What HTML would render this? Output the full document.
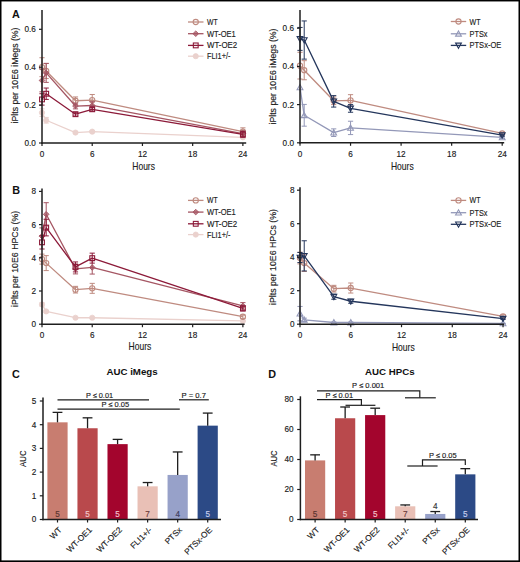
<!DOCTYPE html>
<html><head><meta charset="utf-8"><title>Figure</title>
<style>html,body{margin:0;padding:0;background:#fff;}svg{display:block;}text{font-family:"Liberation Sans", sans-serif;}</style>
</head><body>
<svg width="520" height="562" viewBox="0 0 520 562" font-family='"Liberation Sans", sans-serif'>
<rect x="0" y="0" width="520" height="562" fill="white"/>
<text x="12.00" y="17.60" font-size="10.8" text-anchor="start" fill="#111" font-weight="bold">A</text>
<text x="12.30" y="194.30" font-size="10.8" text-anchor="start" fill="#111" font-weight="bold">B</text>
<text x="12.00" y="377.60" font-size="10.8" text-anchor="start" fill="#111" font-weight="bold">C</text>
<text x="268.20" y="377.60" font-size="10.8" text-anchor="start" fill="#111" font-weight="bold">D</text>
<line x1="42.00" y1="108.89" x2="42.00" y2="116.47" stroke="#ead1cd" stroke-width="1.0"/>
<line x1="39.40" y1="108.89" x2="44.60" y2="108.89" stroke="#ead1cd" stroke-width="1.0"/>
<line x1="39.40" y1="116.47" x2="44.60" y2="116.47" stroke="#ead1cd" stroke-width="1.0"/>
<line x1="46.19" y1="117.42" x2="46.19" y2="123.10" stroke="#ead1cd" stroke-width="1.0"/>
<line x1="43.59" y1="117.42" x2="48.79" y2="117.42" stroke="#ead1cd" stroke-width="1.0"/>
<line x1="43.59" y1="123.10" x2="48.79" y2="123.10" stroke="#ead1cd" stroke-width="1.0"/>
<line x1="75.48" y1="131.63" x2="75.48" y2="133.52" stroke="#ead1cd" stroke-width="1.0"/>
<line x1="72.88" y1="131.63" x2="78.08" y2="131.63" stroke="#ead1cd" stroke-width="1.0"/>
<line x1="72.88" y1="133.52" x2="78.08" y2="133.52" stroke="#ead1cd" stroke-width="1.0"/>
<line x1="92.22" y1="130.68" x2="92.22" y2="132.58" stroke="#ead1cd" stroke-width="1.0"/>
<line x1="89.62" y1="130.68" x2="94.82" y2="130.68" stroke="#ead1cd" stroke-width="1.0"/>
<line x1="89.62" y1="132.58" x2="94.82" y2="132.58" stroke="#ead1cd" stroke-width="1.0"/>
<line x1="242.88" y1="136.75" x2="242.88" y2="137.88" stroke="#ead1cd" stroke-width="1.0"/>
<line x1="240.28" y1="136.75" x2="245.48" y2="136.75" stroke="#ead1cd" stroke-width="1.0"/>
<line x1="240.28" y1="137.88" x2="245.48" y2="137.88" stroke="#ead1cd" stroke-width="1.0"/>
<polyline points="42.00,112.68 46.19,120.26 75.48,132.58 92.22,131.63 242.88,137.31" fill="none" stroke="#ead1cd" stroke-width="1.3" stroke-linejoin="round"/>
<circle cx="42.00" cy="112.68" r="2.6" fill="#ead1cd" stroke="#ead1cd" stroke-width="0.8"/>
<circle cx="46.19" cy="120.26" r="2.6" fill="#ead1cd" stroke="#ead1cd" stroke-width="0.8"/>
<circle cx="75.48" cy="132.58" r="2.6" fill="#ead1cd" stroke="#ead1cd" stroke-width="0.8"/>
<circle cx="92.22" cy="131.63" r="2.6" fill="#ead1cd" stroke="#ead1cd" stroke-width="0.8"/>
<circle cx="242.88" cy="137.31" r="2.6" fill="#ead1cd" stroke="#ead1cd" stroke-width="0.8"/>
<line x1="42.00" y1="57.73" x2="42.00" y2="76.67" stroke="#bf8b80" stroke-width="1.0"/>
<line x1="39.40" y1="57.73" x2="44.60" y2="57.73" stroke="#bf8b80" stroke-width="1.0"/>
<line x1="39.40" y1="76.67" x2="44.60" y2="76.67" stroke="#bf8b80" stroke-width="1.0"/>
<line x1="46.19" y1="63.41" x2="46.19" y2="78.57" stroke="#bf8b80" stroke-width="1.0"/>
<line x1="43.59" y1="63.41" x2="48.79" y2="63.41" stroke="#bf8b80" stroke-width="1.0"/>
<line x1="43.59" y1="78.57" x2="48.79" y2="78.57" stroke="#bf8b80" stroke-width="1.0"/>
<line x1="75.48" y1="96.95" x2="75.48" y2="104.53" stroke="#bf8b80" stroke-width="1.0"/>
<line x1="72.88" y1="96.95" x2="78.08" y2="96.95" stroke="#bf8b80" stroke-width="1.0"/>
<line x1="72.88" y1="104.53" x2="78.08" y2="104.53" stroke="#bf8b80" stroke-width="1.0"/>
<line x1="92.22" y1="94.49" x2="92.22" y2="105.86" stroke="#bf8b80" stroke-width="1.0"/>
<line x1="89.62" y1="94.49" x2="94.82" y2="94.49" stroke="#bf8b80" stroke-width="1.0"/>
<line x1="89.62" y1="105.86" x2="94.82" y2="105.86" stroke="#bf8b80" stroke-width="1.0"/>
<line x1="242.88" y1="127.84" x2="242.88" y2="135.42" stroke="#bf8b80" stroke-width="1.0"/>
<line x1="240.28" y1="127.84" x2="245.48" y2="127.84" stroke="#bf8b80" stroke-width="1.0"/>
<line x1="240.28" y1="135.42" x2="245.48" y2="135.42" stroke="#bf8b80" stroke-width="1.0"/>
<polyline points="42.00,67.20 46.19,70.99 75.48,100.74 92.22,100.17 242.88,131.63" fill="none" stroke="#bf8b80" stroke-width="1.3" stroke-linejoin="round"/>
<circle cx="42.00" cy="67.20" r="2.6" fill="none" stroke="#bf8b80" stroke-width="1.1"/>
<circle cx="46.19" cy="70.99" r="2.6" fill="none" stroke="#bf8b80" stroke-width="1.1"/>
<circle cx="75.48" cy="100.74" r="2.6" fill="none" stroke="#bf8b80" stroke-width="1.1"/>
<circle cx="92.22" cy="100.17" r="2.6" fill="none" stroke="#bf8b80" stroke-width="1.1"/>
<circle cx="242.88" cy="131.63" r="2.6" fill="none" stroke="#bf8b80" stroke-width="1.1"/>
<line x1="42.00" y1="69.09" x2="42.00" y2="91.84" stroke="#a55663" stroke-width="1.0"/>
<line x1="39.40" y1="69.09" x2="44.60" y2="69.09" stroke="#a55663" stroke-width="1.0"/>
<line x1="39.40" y1="91.84" x2="44.60" y2="91.84" stroke="#a55663" stroke-width="1.0"/>
<line x1="46.19" y1="63.41" x2="46.19" y2="82.36" stroke="#a55663" stroke-width="1.0"/>
<line x1="43.59" y1="63.41" x2="48.79" y2="63.41" stroke="#a55663" stroke-width="1.0"/>
<line x1="43.59" y1="82.36" x2="48.79" y2="82.36" stroke="#a55663" stroke-width="1.0"/>
<line x1="75.48" y1="103.20" x2="75.48" y2="108.89" stroke="#a55663" stroke-width="1.0"/>
<line x1="72.88" y1="103.20" x2="78.08" y2="103.20" stroke="#a55663" stroke-width="1.0"/>
<line x1="72.88" y1="108.89" x2="78.08" y2="108.89" stroke="#a55663" stroke-width="1.0"/>
<line x1="92.22" y1="101.69" x2="92.22" y2="109.27" stroke="#a55663" stroke-width="1.0"/>
<line x1="89.62" y1="101.69" x2="94.82" y2="101.69" stroke="#a55663" stroke-width="1.0"/>
<line x1="89.62" y1="109.27" x2="94.82" y2="109.27" stroke="#a55663" stroke-width="1.0"/>
<line x1="242.88" y1="130.68" x2="242.88" y2="136.37" stroke="#a55663" stroke-width="1.0"/>
<line x1="240.28" y1="130.68" x2="245.48" y2="130.68" stroke="#a55663" stroke-width="1.0"/>
<line x1="240.28" y1="136.37" x2="245.48" y2="136.37" stroke="#a55663" stroke-width="1.0"/>
<polyline points="42.00,80.47 46.19,72.89 75.48,106.05 92.22,105.48 242.88,133.53" fill="none" stroke="#a55663" stroke-width="1.3" stroke-linejoin="round"/>
<polygon points="42.00,77.67 44.80,80.47 42.00,83.27 39.20,80.47" fill="#a55663" fill-opacity="0.75" stroke="#a55663" stroke-width="0.9"/>
<polygon points="46.19,70.09 48.98,72.89 46.19,75.69 43.39,72.89" fill="#a55663" fill-opacity="0.75" stroke="#a55663" stroke-width="0.9"/>
<polygon points="75.48,103.25 78.28,106.05 75.48,108.85 72.68,106.05" fill="#a55663" fill-opacity="0.75" stroke="#a55663" stroke-width="0.9"/>
<polygon points="92.22,102.68 95.02,105.48 92.22,108.28 89.42,105.48" fill="#a55663" fill-opacity="0.75" stroke="#a55663" stroke-width="0.9"/>
<polygon points="242.88,130.72 245.68,133.53 242.88,136.33 240.08,133.53" fill="#a55663" fill-opacity="0.75" stroke="#a55663" stroke-width="0.9"/>
<line x1="42.00" y1="93.73" x2="42.00" y2="105.10" stroke="#8c1a39" stroke-width="1.0"/>
<line x1="39.40" y1="93.73" x2="44.60" y2="93.73" stroke="#8c1a39" stroke-width="1.0"/>
<line x1="39.40" y1="105.10" x2="44.60" y2="105.10" stroke="#8c1a39" stroke-width="1.0"/>
<line x1="46.19" y1="88.04" x2="46.19" y2="99.41" stroke="#8c1a39" stroke-width="1.0"/>
<line x1="43.59" y1="88.04" x2="48.79" y2="88.04" stroke="#8c1a39" stroke-width="1.0"/>
<line x1="43.59" y1="99.41" x2="48.79" y2="99.41" stroke="#8c1a39" stroke-width="1.0"/>
<line x1="75.48" y1="112.30" x2="75.48" y2="116.09" stroke="#8c1a39" stroke-width="1.0"/>
<line x1="72.88" y1="112.30" x2="78.08" y2="112.30" stroke="#8c1a39" stroke-width="1.0"/>
<line x1="72.88" y1="116.09" x2="78.08" y2="116.09" stroke="#8c1a39" stroke-width="1.0"/>
<line x1="92.22" y1="107.37" x2="92.22" y2="111.16" stroke="#8c1a39" stroke-width="1.0"/>
<line x1="89.62" y1="107.37" x2="94.82" y2="107.37" stroke="#8c1a39" stroke-width="1.0"/>
<line x1="89.62" y1="111.16" x2="94.82" y2="111.16" stroke="#8c1a39" stroke-width="1.0"/>
<line x1="242.88" y1="131.63" x2="242.88" y2="137.31" stroke="#8c1a39" stroke-width="1.0"/>
<line x1="240.28" y1="131.63" x2="245.48" y2="131.63" stroke="#8c1a39" stroke-width="1.0"/>
<line x1="240.28" y1="137.31" x2="245.48" y2="137.31" stroke="#8c1a39" stroke-width="1.0"/>
<polyline points="42.00,99.41 46.19,93.73 75.48,114.20 92.22,109.27 242.88,134.47" fill="none" stroke="#8c1a39" stroke-width="1.3" stroke-linejoin="round"/>
<rect x="39.60" y="97.01" width="4.80" height="4.80" fill="none" stroke="#8c1a39" stroke-width="1.1"/>
<rect x="43.79" y="91.33" width="4.80" height="4.80" fill="none" stroke="#8c1a39" stroke-width="1.1"/>
<rect x="73.08" y="111.80" width="4.80" height="4.80" fill="none" stroke="#8c1a39" stroke-width="1.1"/>
<rect x="89.82" y="106.87" width="4.80" height="4.80" fill="none" stroke="#8c1a39" stroke-width="1.1"/>
<rect x="240.48" y="132.07" width="4.80" height="4.80" fill="none" stroke="#8c1a39" stroke-width="1.1"/>
<line x1="42.00" y1="10.00" x2="42.00" y2="143.70" stroke="#1e1e1e" stroke-width="1.5"/>
<line x1="41.30" y1="143.00" x2="246.20" y2="143.00" stroke="#1e1e1e" stroke-width="1.5"/>
<line x1="39.00" y1="143.00" x2="42.00" y2="143.00" stroke="#1e1e1e" stroke-width="1.2"/>
<text x="35.80" y="145.90" font-size="8.2" text-anchor="end" fill="#202020" stroke="#202020" stroke-width="0.14">0.0</text>
<line x1="39.00" y1="105.10" x2="42.00" y2="105.10" stroke="#1e1e1e" stroke-width="1.2"/>
<text x="35.80" y="108.00" font-size="8.2" text-anchor="end" fill="#202020" stroke="#202020" stroke-width="0.14">0.2</text>
<line x1="39.00" y1="67.20" x2="42.00" y2="67.20" stroke="#1e1e1e" stroke-width="1.2"/>
<text x="35.80" y="70.10" font-size="8.2" text-anchor="end" fill="#202020" stroke="#202020" stroke-width="0.14">0.4</text>
<line x1="39.00" y1="29.30" x2="42.00" y2="29.30" stroke="#1e1e1e" stroke-width="1.2"/>
<text x="35.80" y="32.20" font-size="8.2" text-anchor="end" fill="#202020" stroke="#202020" stroke-width="0.14">0.6</text>
<line x1="42.00" y1="143.00" x2="42.00" y2="146.00" stroke="#1e1e1e" stroke-width="1.2"/>
<text x="42.00" y="157.20" font-size="8.2" text-anchor="middle" fill="#202020" stroke="#202020" stroke-width="0.14">0</text>
<line x1="92.22" y1="143.00" x2="92.22" y2="146.00" stroke="#1e1e1e" stroke-width="1.2"/>
<text x="92.22" y="157.20" font-size="8.2" text-anchor="middle" fill="#202020" stroke="#202020" stroke-width="0.14">6</text>
<line x1="142.44" y1="143.00" x2="142.44" y2="146.00" stroke="#1e1e1e" stroke-width="1.2"/>
<text x="142.44" y="157.20" font-size="8.2" text-anchor="middle" fill="#202020" stroke="#202020" stroke-width="0.14">12</text>
<line x1="192.66" y1="143.00" x2="192.66" y2="146.00" stroke="#1e1e1e" stroke-width="1.2"/>
<text x="192.66" y="157.20" font-size="8.2" text-anchor="middle" fill="#202020" stroke="#202020" stroke-width="0.14">18</text>
<line x1="242.88" y1="143.00" x2="242.88" y2="146.00" stroke="#1e1e1e" stroke-width="1.2"/>
<text x="242.88" y="157.20" font-size="8.2" text-anchor="middle" fill="#202020" stroke="#202020" stroke-width="0.14">24</text>
<text x="143.60" y="169.80" font-size="10.6" text-anchor="middle" fill="#202020" textLength="22.7" lengthAdjust="spacingAndGlyphs" stroke="#202020" stroke-width="0.14">Hours</text>
<text x="17.80" y="75.50" font-size="8.4" text-anchor="middle" fill="#202020" textLength="96" lengthAdjust="spacingAndGlyphs" transform="rotate(-90 17.80 75.50)" stroke="#202020" stroke-width="0.14">iPlts per 10E6 iMegs (%)</text>
<line x1="188.00" y1="22.00" x2="203.50" y2="22.00" stroke="#bf8b80" stroke-width="1.3"/>
<circle cx="195.75" cy="22.00" r="2.6" fill="none" stroke="#bf8b80" stroke-width="1.1"/>
<text x="207.00" y="25.00" font-size="8.3" text-anchor="start" fill="#202020" textLength="10.6" lengthAdjust="spacingAndGlyphs" stroke="#202020" stroke-width="0.14">WT</text>
<line x1="188.00" y1="33.70" x2="203.50" y2="33.70" stroke="#a55663" stroke-width="1.3"/>
<polygon points="195.75,30.90 198.55,33.70 195.75,36.50 192.95,33.70" fill="#a55663" fill-opacity="0.75" stroke="#a55663" stroke-width="0.9"/>
<text x="207.00" y="36.70" font-size="8.3" text-anchor="start" fill="#202020" textLength="28.8" lengthAdjust="spacingAndGlyphs" stroke="#202020" stroke-width="0.14">WT-OE1</text>
<line x1="188.00" y1="45.40" x2="203.50" y2="45.40" stroke="#8c1a39" stroke-width="1.3"/>
<rect x="193.35" y="43.00" width="4.80" height="4.80" fill="none" stroke="#8c1a39" stroke-width="1.1"/>
<text x="207.00" y="48.40" font-size="8.3" text-anchor="start" fill="#202020" textLength="30.2" lengthAdjust="spacingAndGlyphs" stroke="#202020" stroke-width="0.14">WT-OE2</text>
<line x1="188.00" y1="56.20" x2="203.50" y2="56.20" stroke="#ead1cd" stroke-width="1.3"/>
<circle cx="195.75" cy="56.20" r="2.6" fill="#ead1cd" stroke="#ead1cd" stroke-width="0.8"/>
<text x="207.00" y="59.20" font-size="8.3" text-anchor="start" fill="#202020" textLength="23.4" lengthAdjust="spacingAndGlyphs" stroke="#202020" stroke-width="0.14">FLI1+/-</text>
<line x1="304.21" y1="104.41" x2="304.21" y2="126.18" stroke="#9398b8" stroke-width="1.0"/>
<line x1="301.61" y1="104.41" x2="306.81" y2="104.41" stroke="#9398b8" stroke-width="1.0"/>
<line x1="301.61" y1="126.18" x2="306.81" y2="126.18" stroke="#9398b8" stroke-width="1.0"/>
<line x1="333.70" y1="128.86" x2="333.70" y2="136.50" stroke="#9398b8" stroke-width="1.0"/>
<line x1="331.10" y1="128.86" x2="336.30" y2="128.86" stroke="#9398b8" stroke-width="1.0"/>
<line x1="331.10" y1="136.50" x2="336.30" y2="136.50" stroke="#9398b8" stroke-width="1.0"/>
<line x1="350.55" y1="121.22" x2="350.55" y2="134.59" stroke="#9398b8" stroke-width="1.0"/>
<line x1="347.95" y1="121.22" x2="353.15" y2="121.22" stroke="#9398b8" stroke-width="1.0"/>
<line x1="347.95" y1="134.59" x2="353.15" y2="134.59" stroke="#9398b8" stroke-width="1.0"/>
<line x1="502.20" y1="136.50" x2="502.20" y2="138.41" stroke="#9398b8" stroke-width="1.0"/>
<line x1="499.60" y1="136.50" x2="504.80" y2="136.50" stroke="#9398b8" stroke-width="1.0"/>
<line x1="499.60" y1="138.41" x2="504.80" y2="138.41" stroke="#9398b8" stroke-width="1.0"/>
<polyline points="300.00,87.41 304.21,115.30 333.70,132.68 350.55,127.90 502.20,137.45" fill="none" stroke="#9398b8" stroke-width="1.3" stroke-linejoin="round"/>
<polygon points="300.00,84.51 302.90,89.73 297.10,89.73" fill="none" stroke="#9398b8" stroke-width="1.1"/>
<polygon points="304.21,112.40 307.11,117.62 301.31,117.62" fill="none" stroke="#9398b8" stroke-width="1.1"/>
<polygon points="333.70,129.78 336.60,135.00 330.80,135.00" fill="none" stroke="#9398b8" stroke-width="1.1"/>
<polygon points="350.55,125.00 353.45,130.22 347.65,130.22" fill="none" stroke="#9398b8" stroke-width="1.1"/>
<polygon points="502.20,134.55 505.10,139.77 499.30,139.77" fill="none" stroke="#9398b8" stroke-width="1.1"/>
<line x1="300.00" y1="52.27" x2="300.00" y2="79.01" stroke="#bf8b80" stroke-width="1.0"/>
<line x1="297.40" y1="52.27" x2="302.60" y2="52.27" stroke="#bf8b80" stroke-width="1.0"/>
<line x1="297.40" y1="79.01" x2="302.60" y2="79.01" stroke="#bf8b80" stroke-width="1.0"/>
<line x1="304.21" y1="60.67" x2="304.21" y2="79.77" stroke="#bf8b80" stroke-width="1.0"/>
<line x1="301.61" y1="60.67" x2="306.81" y2="60.67" stroke="#bf8b80" stroke-width="1.0"/>
<line x1="301.61" y1="79.77" x2="306.81" y2="79.77" stroke="#bf8b80" stroke-width="1.0"/>
<line x1="333.70" y1="96.96" x2="333.70" y2="104.60" stroke="#bf8b80" stroke-width="1.0"/>
<line x1="331.10" y1="96.96" x2="336.30" y2="96.96" stroke="#bf8b80" stroke-width="1.0"/>
<line x1="331.10" y1="104.60" x2="336.30" y2="104.60" stroke="#bf8b80" stroke-width="1.0"/>
<line x1="350.55" y1="94.67" x2="350.55" y2="106.13" stroke="#bf8b80" stroke-width="1.0"/>
<line x1="347.95" y1="94.67" x2="353.15" y2="94.67" stroke="#bf8b80" stroke-width="1.0"/>
<line x1="347.95" y1="106.13" x2="353.15" y2="106.13" stroke="#bf8b80" stroke-width="1.0"/>
<line x1="502.20" y1="132.49" x2="502.20" y2="134.40" stroke="#bf8b80" stroke-width="1.0"/>
<line x1="499.60" y1="132.49" x2="504.80" y2="132.49" stroke="#bf8b80" stroke-width="1.0"/>
<line x1="499.60" y1="134.40" x2="504.80" y2="134.40" stroke="#bf8b80" stroke-width="1.0"/>
<polyline points="300.00,65.64 304.21,70.22 333.70,100.78 350.55,100.40 502.20,133.44" fill="none" stroke="#bf8b80" stroke-width="1.3" stroke-linejoin="round"/>
<circle cx="300.00" cy="65.64" r="2.6" fill="none" stroke="#bf8b80" stroke-width="1.1"/>
<circle cx="304.21" cy="70.22" r="2.6" fill="none" stroke="#bf8b80" stroke-width="1.1"/>
<circle cx="333.70" cy="100.78" r="2.6" fill="none" stroke="#bf8b80" stroke-width="1.1"/>
<circle cx="350.55" cy="100.40" r="2.6" fill="none" stroke="#bf8b80" stroke-width="1.1"/>
<circle cx="502.20" cy="133.44" r="2.6" fill="none" stroke="#bf8b80" stroke-width="1.1"/>
<line x1="300.00" y1="27.44" x2="300.00" y2="50.36" stroke="#24365c" stroke-width="1.0"/>
<line x1="297.40" y1="27.44" x2="302.60" y2="27.44" stroke="#24365c" stroke-width="1.0"/>
<line x1="297.40" y1="50.36" x2="302.60" y2="50.36" stroke="#24365c" stroke-width="1.0"/>
<line x1="304.21" y1="20.94" x2="304.21" y2="59.14" stroke="#24365c" stroke-width="1.0"/>
<line x1="301.61" y1="20.94" x2="306.81" y2="20.94" stroke="#24365c" stroke-width="1.0"/>
<line x1="301.61" y1="59.14" x2="306.81" y2="59.14" stroke="#24365c" stroke-width="1.0"/>
<line x1="333.70" y1="95.62" x2="333.70" y2="107.08" stroke="#24365c" stroke-width="1.0"/>
<line x1="331.10" y1="95.62" x2="336.30" y2="95.62" stroke="#24365c" stroke-width="1.0"/>
<line x1="331.10" y1="107.08" x2="336.30" y2="107.08" stroke="#24365c" stroke-width="1.0"/>
<line x1="350.55" y1="104.60" x2="350.55" y2="112.24" stroke="#24365c" stroke-width="1.0"/>
<line x1="347.95" y1="104.60" x2="353.15" y2="104.60" stroke="#24365c" stroke-width="1.0"/>
<line x1="347.95" y1="112.24" x2="353.15" y2="112.24" stroke="#24365c" stroke-width="1.0"/>
<line x1="502.20" y1="134.21" x2="502.20" y2="136.12" stroke="#24365c" stroke-width="1.0"/>
<line x1="499.60" y1="134.21" x2="504.80" y2="134.21" stroke="#24365c" stroke-width="1.0"/>
<line x1="499.60" y1="136.12" x2="504.80" y2="136.12" stroke="#24365c" stroke-width="1.0"/>
<polyline points="300.00,38.90 304.21,40.04 333.70,101.35 350.55,108.42 502.20,135.16" fill="none" stroke="#24365c" stroke-width="1.3" stroke-linejoin="round"/>
<polygon points="300.00,41.80 302.90,36.58 297.10,36.58" fill="none" stroke="#24365c" stroke-width="1.1"/>
<polygon points="304.21,42.94 307.11,37.72 301.31,37.72" fill="none" stroke="#24365c" stroke-width="1.1"/>
<polygon points="333.70,104.25 336.60,99.03 330.80,99.03" fill="none" stroke="#24365c" stroke-width="1.1"/>
<polygon points="350.55,111.32 353.45,106.10 347.65,106.10" fill="none" stroke="#24365c" stroke-width="1.1"/>
<polygon points="502.20,138.06 505.10,132.84 499.30,132.84" fill="none" stroke="#24365c" stroke-width="1.1"/>
<line x1="300.00" y1="10.00" x2="300.00" y2="143.50" stroke="#1e1e1e" stroke-width="1.5"/>
<line x1="299.30" y1="142.80" x2="504.20" y2="142.80" stroke="#1e1e1e" stroke-width="1.5"/>
<line x1="297.00" y1="142.80" x2="300.00" y2="142.80" stroke="#1e1e1e" stroke-width="1.2"/>
<text x="294.00" y="145.70" font-size="8.2" text-anchor="end" fill="#202020" stroke="#202020" stroke-width="0.14">0.0</text>
<line x1="297.00" y1="104.60" x2="300.00" y2="104.60" stroke="#1e1e1e" stroke-width="1.2"/>
<text x="294.00" y="107.50" font-size="8.2" text-anchor="end" fill="#202020" stroke="#202020" stroke-width="0.14">0.2</text>
<line x1="297.00" y1="66.40" x2="300.00" y2="66.40" stroke="#1e1e1e" stroke-width="1.2"/>
<text x="294.00" y="69.30" font-size="8.2" text-anchor="end" fill="#202020" stroke="#202020" stroke-width="0.14">0.4</text>
<line x1="297.00" y1="28.20" x2="300.00" y2="28.20" stroke="#1e1e1e" stroke-width="1.2"/>
<text x="294.00" y="31.10" font-size="8.2" text-anchor="end" fill="#202020" stroke="#202020" stroke-width="0.14">0.6</text>
<line x1="300.00" y1="142.80" x2="300.00" y2="145.80" stroke="#1e1e1e" stroke-width="1.2"/>
<text x="300.00" y="157.20" font-size="8.2" text-anchor="middle" fill="#202020" stroke="#202020" stroke-width="0.14">0</text>
<line x1="350.55" y1="142.80" x2="350.55" y2="145.80" stroke="#1e1e1e" stroke-width="1.2"/>
<text x="350.55" y="157.20" font-size="8.2" text-anchor="middle" fill="#202020" stroke="#202020" stroke-width="0.14">6</text>
<line x1="401.10" y1="142.80" x2="401.10" y2="145.80" stroke="#1e1e1e" stroke-width="1.2"/>
<text x="401.10" y="157.20" font-size="8.2" text-anchor="middle" fill="#202020" stroke="#202020" stroke-width="0.14">12</text>
<line x1="451.65" y1="142.80" x2="451.65" y2="145.80" stroke="#1e1e1e" stroke-width="1.2"/>
<text x="451.65" y="157.20" font-size="8.2" text-anchor="middle" fill="#202020" stroke="#202020" stroke-width="0.14">18</text>
<line x1="502.20" y1="142.80" x2="502.20" y2="145.80" stroke="#1e1e1e" stroke-width="1.2"/>
<text x="502.20" y="157.20" font-size="8.2" text-anchor="middle" fill="#202020" stroke="#202020" stroke-width="0.14">24</text>
<text x="402.30" y="169.80" font-size="10.6" text-anchor="middle" fill="#202020" textLength="22.7" lengthAdjust="spacingAndGlyphs" stroke="#202020" stroke-width="0.14">Hours</text>
<text x="276.40" y="76.50" font-size="8.4" text-anchor="middle" fill="#202020" textLength="96" lengthAdjust="spacingAndGlyphs" transform="rotate(-90 276.40 76.50)" stroke="#202020" stroke-width="0.14">iPlts per 10E6 iMegs (%)</text>
<line x1="450.80" y1="21.50" x2="466.20" y2="21.50" stroke="#bf8b80" stroke-width="1.3"/>
<circle cx="458.50" cy="21.50" r="2.6" fill="none" stroke="#bf8b80" stroke-width="1.1"/>
<text x="469.50" y="24.50" font-size="8.3" text-anchor="start" fill="#202020" textLength="11.0" lengthAdjust="spacingAndGlyphs" stroke="#202020" stroke-width="0.14">WT</text>
<line x1="450.80" y1="33.80" x2="466.20" y2="33.80" stroke="#9398b8" stroke-width="1.3"/>
<polygon points="458.50,30.90 461.40,36.12 455.60,36.12" fill="none" stroke="#9398b8" stroke-width="1.1"/>
<text x="469.50" y="36.80" font-size="8.3" text-anchor="start" fill="#202020" textLength="18.0" lengthAdjust="spacingAndGlyphs" stroke="#202020" stroke-width="0.14">PTSx</text>
<line x1="450.80" y1="45.40" x2="466.20" y2="45.40" stroke="#24365c" stroke-width="1.3"/>
<polygon points="458.50,48.30 461.40,43.08 455.60,43.08" fill="none" stroke="#24365c" stroke-width="1.1"/>
<text x="469.50" y="48.40" font-size="8.3" text-anchor="start" fill="#202020" textLength="31.8" lengthAdjust="spacingAndGlyphs" stroke="#202020" stroke-width="0.14">PTSx-OE</text>
<line x1="42.00" y1="302.79" x2="42.00" y2="306.11" stroke="#ead1cd" stroke-width="1.0"/>
<line x1="39.40" y1="302.79" x2="44.60" y2="302.79" stroke="#ead1cd" stroke-width="1.0"/>
<line x1="39.40" y1="306.11" x2="44.60" y2="306.11" stroke="#ead1cd" stroke-width="1.0"/>
<line x1="46.19" y1="310.59" x2="46.19" y2="312.25" stroke="#ead1cd" stroke-width="1.0"/>
<line x1="43.59" y1="310.59" x2="48.79" y2="310.59" stroke="#ead1cd" stroke-width="1.0"/>
<line x1="43.59" y1="312.25" x2="48.79" y2="312.25" stroke="#ead1cd" stroke-width="1.0"/>
<line x1="75.48" y1="317.23" x2="75.48" y2="318.22" stroke="#ead1cd" stroke-width="1.0"/>
<line x1="72.88" y1="317.23" x2="78.08" y2="317.23" stroke="#ead1cd" stroke-width="1.0"/>
<line x1="72.88" y1="318.22" x2="78.08" y2="318.22" stroke="#ead1cd" stroke-width="1.0"/>
<line x1="92.22" y1="317.23" x2="92.22" y2="318.22" stroke="#ead1cd" stroke-width="1.0"/>
<line x1="89.62" y1="317.23" x2="94.82" y2="317.23" stroke="#ead1cd" stroke-width="1.0"/>
<line x1="89.62" y1="318.22" x2="94.82" y2="318.22" stroke="#ead1cd" stroke-width="1.0"/>
<line x1="242.88" y1="320.55" x2="242.88" y2="321.21" stroke="#ead1cd" stroke-width="1.0"/>
<line x1="240.28" y1="320.55" x2="245.48" y2="320.55" stroke="#ead1cd" stroke-width="1.0"/>
<line x1="240.28" y1="321.21" x2="245.48" y2="321.21" stroke="#ead1cd" stroke-width="1.0"/>
<polyline points="42.00,304.45 46.19,311.42 75.48,317.73 92.22,317.73 242.88,320.88" fill="none" stroke="#ead1cd" stroke-width="1.3" stroke-linejoin="round"/>
<circle cx="42.00" cy="304.45" r="2.6" fill="#ead1cd" stroke="#ead1cd" stroke-width="0.8"/>
<circle cx="46.19" cy="311.42" r="2.6" fill="#ead1cd" stroke="#ead1cd" stroke-width="0.8"/>
<circle cx="75.48" cy="317.73" r="2.6" fill="#ead1cd" stroke="#ead1cd" stroke-width="0.8"/>
<circle cx="92.22" cy="317.73" r="2.6" fill="#ead1cd" stroke="#ead1cd" stroke-width="0.8"/>
<circle cx="242.88" cy="320.88" r="2.6" fill="#ead1cd" stroke="#ead1cd" stroke-width="0.8"/>
<line x1="42.00" y1="254.15" x2="42.00" y2="264.11" stroke="#bf8b80" stroke-width="1.0"/>
<line x1="39.40" y1="254.15" x2="44.60" y2="254.15" stroke="#bf8b80" stroke-width="1.0"/>
<line x1="39.40" y1="264.11" x2="44.60" y2="264.11" stroke="#bf8b80" stroke-width="1.0"/>
<line x1="46.19" y1="255.64" x2="46.19" y2="270.58" stroke="#bf8b80" stroke-width="1.0"/>
<line x1="43.59" y1="255.64" x2="48.79" y2="255.64" stroke="#bf8b80" stroke-width="1.0"/>
<line x1="43.59" y1="270.58" x2="48.79" y2="270.58" stroke="#bf8b80" stroke-width="1.0"/>
<line x1="75.48" y1="286.35" x2="75.48" y2="292.99" stroke="#bf8b80" stroke-width="1.0"/>
<line x1="72.88" y1="286.35" x2="78.08" y2="286.35" stroke="#bf8b80" stroke-width="1.0"/>
<line x1="72.88" y1="292.99" x2="78.08" y2="292.99" stroke="#bf8b80" stroke-width="1.0"/>
<line x1="92.22" y1="283.36" x2="92.22" y2="293.32" stroke="#bf8b80" stroke-width="1.0"/>
<line x1="89.62" y1="283.36" x2="94.82" y2="283.36" stroke="#bf8b80" stroke-width="1.0"/>
<line x1="89.62" y1="293.32" x2="94.82" y2="293.32" stroke="#bf8b80" stroke-width="1.0"/>
<line x1="242.88" y1="315.07" x2="242.88" y2="318.39" stroke="#bf8b80" stroke-width="1.0"/>
<line x1="240.28" y1="315.07" x2="245.48" y2="315.07" stroke="#bf8b80" stroke-width="1.0"/>
<line x1="240.28" y1="318.39" x2="245.48" y2="318.39" stroke="#bf8b80" stroke-width="1.0"/>
<polyline points="42.00,259.13 46.19,263.11 75.48,289.67 92.22,288.34 242.88,316.73" fill="none" stroke="#bf8b80" stroke-width="1.3" stroke-linejoin="round"/>
<circle cx="42.00" cy="259.13" r="2.6" fill="none" stroke="#bf8b80" stroke-width="1.1"/>
<circle cx="46.19" cy="263.11" r="2.6" fill="none" stroke="#bf8b80" stroke-width="1.1"/>
<circle cx="75.48" cy="289.67" r="2.6" fill="none" stroke="#bf8b80" stroke-width="1.1"/>
<circle cx="92.22" cy="288.34" r="2.6" fill="none" stroke="#bf8b80" stroke-width="1.1"/>
<circle cx="242.88" cy="316.73" r="2.6" fill="none" stroke="#bf8b80" stroke-width="1.1"/>
<line x1="42.00" y1="227.92" x2="42.00" y2="244.52" stroke="#a55663" stroke-width="1.0"/>
<line x1="39.40" y1="227.92" x2="44.60" y2="227.92" stroke="#a55663" stroke-width="1.0"/>
<line x1="39.40" y1="244.52" x2="44.60" y2="244.52" stroke="#a55663" stroke-width="1.0"/>
<line x1="46.19" y1="202.69" x2="46.19" y2="225.93" stroke="#a55663" stroke-width="1.0"/>
<line x1="43.59" y1="202.69" x2="48.79" y2="202.69" stroke="#a55663" stroke-width="1.0"/>
<line x1="43.59" y1="225.93" x2="48.79" y2="225.93" stroke="#a55663" stroke-width="1.0"/>
<line x1="75.48" y1="263.94" x2="75.48" y2="273.90" stroke="#a55663" stroke-width="1.0"/>
<line x1="72.88" y1="263.94" x2="78.08" y2="263.94" stroke="#a55663" stroke-width="1.0"/>
<line x1="72.88" y1="273.90" x2="78.08" y2="273.90" stroke="#a55663" stroke-width="1.0"/>
<line x1="92.22" y1="260.79" x2="92.22" y2="274.07" stroke="#a55663" stroke-width="1.0"/>
<line x1="89.62" y1="260.79" x2="94.82" y2="260.79" stroke="#a55663" stroke-width="1.0"/>
<line x1="89.62" y1="274.07" x2="94.82" y2="274.07" stroke="#a55663" stroke-width="1.0"/>
<line x1="242.88" y1="302.62" x2="242.88" y2="309.26" stroke="#a55663" stroke-width="1.0"/>
<line x1="240.28" y1="302.62" x2="245.48" y2="302.62" stroke="#a55663" stroke-width="1.0"/>
<line x1="240.28" y1="309.26" x2="245.48" y2="309.26" stroke="#a55663" stroke-width="1.0"/>
<polyline points="42.00,236.22 46.19,214.31 75.48,268.92 92.22,267.43 242.88,305.94" fill="none" stroke="#a55663" stroke-width="1.3" stroke-linejoin="round"/>
<polygon points="42.00,233.42 44.80,236.22 42.00,239.02 39.20,236.22" fill="#a55663" fill-opacity="0.75" stroke="#a55663" stroke-width="0.9"/>
<polygon points="46.19,211.51 48.98,214.31 46.19,217.11 43.39,214.31" fill="#a55663" fill-opacity="0.75" stroke="#a55663" stroke-width="0.9"/>
<polygon points="75.48,266.12 78.28,268.92 75.48,271.72 72.68,268.92" fill="#a55663" fill-opacity="0.75" stroke="#a55663" stroke-width="0.9"/>
<polygon points="92.22,264.63 95.02,267.43 92.22,270.23 89.42,267.43" fill="#a55663" fill-opacity="0.75" stroke="#a55663" stroke-width="0.9"/>
<polygon points="242.88,303.14 245.68,305.94 242.88,308.74 240.08,305.94" fill="#a55663" fill-opacity="0.75" stroke="#a55663" stroke-width="0.9"/>
<line x1="42.00" y1="235.72" x2="42.00" y2="249.00" stroke="#8c1a39" stroke-width="1.0"/>
<line x1="39.40" y1="235.72" x2="44.60" y2="235.72" stroke="#8c1a39" stroke-width="1.0"/>
<line x1="39.40" y1="249.00" x2="44.60" y2="249.00" stroke="#8c1a39" stroke-width="1.0"/>
<line x1="46.19" y1="219.29" x2="46.19" y2="235.89" stroke="#8c1a39" stroke-width="1.0"/>
<line x1="43.59" y1="219.29" x2="48.79" y2="219.29" stroke="#8c1a39" stroke-width="1.0"/>
<line x1="43.59" y1="235.89" x2="48.79" y2="235.89" stroke="#8c1a39" stroke-width="1.0"/>
<line x1="75.48" y1="261.95" x2="75.48" y2="271.91" stroke="#8c1a39" stroke-width="1.0"/>
<line x1="72.88" y1="261.95" x2="78.08" y2="261.95" stroke="#8c1a39" stroke-width="1.0"/>
<line x1="72.88" y1="271.91" x2="78.08" y2="271.91" stroke="#8c1a39" stroke-width="1.0"/>
<line x1="92.22" y1="253.15" x2="92.22" y2="263.11" stroke="#8c1a39" stroke-width="1.0"/>
<line x1="89.62" y1="253.15" x2="94.82" y2="253.15" stroke="#8c1a39" stroke-width="1.0"/>
<line x1="89.62" y1="263.11" x2="94.82" y2="263.11" stroke="#8c1a39" stroke-width="1.0"/>
<line x1="242.88" y1="305.94" x2="242.88" y2="310.92" stroke="#8c1a39" stroke-width="1.0"/>
<line x1="240.28" y1="305.94" x2="245.48" y2="305.94" stroke="#8c1a39" stroke-width="1.0"/>
<line x1="240.28" y1="310.92" x2="245.48" y2="310.92" stroke="#8c1a39" stroke-width="1.0"/>
<polyline points="42.00,242.36 46.19,227.59 75.48,266.93 92.22,258.13 242.88,308.43" fill="none" stroke="#8c1a39" stroke-width="1.3" stroke-linejoin="round"/>
<rect x="39.60" y="239.96" width="4.80" height="4.80" fill="none" stroke="#8c1a39" stroke-width="1.1"/>
<rect x="43.79" y="225.19" width="4.80" height="4.80" fill="none" stroke="#8c1a39" stroke-width="1.1"/>
<rect x="73.08" y="264.53" width="4.80" height="4.80" fill="none" stroke="#8c1a39" stroke-width="1.1"/>
<rect x="89.82" y="255.73" width="4.80" height="4.80" fill="none" stroke="#8c1a39" stroke-width="1.1"/>
<rect x="240.48" y="306.03" width="4.80" height="4.80" fill="none" stroke="#8c1a39" stroke-width="1.1"/>
<line x1="42.00" y1="188.40" x2="42.00" y2="324.90" stroke="#1e1e1e" stroke-width="1.5"/>
<line x1="41.30" y1="324.20" x2="244.60" y2="324.20" stroke="#1e1e1e" stroke-width="1.5"/>
<line x1="39.00" y1="324.20" x2="42.00" y2="324.20" stroke="#1e1e1e" stroke-width="1.2"/>
<text x="36.00" y="327.10" font-size="8.2" text-anchor="end" fill="#202020" stroke="#202020" stroke-width="0.14">0</text>
<line x1="39.00" y1="291.00" x2="42.00" y2="291.00" stroke="#1e1e1e" stroke-width="1.2"/>
<text x="36.00" y="293.90" font-size="8.2" text-anchor="end" fill="#202020" stroke="#202020" stroke-width="0.14">2</text>
<line x1="39.00" y1="257.80" x2="42.00" y2="257.80" stroke="#1e1e1e" stroke-width="1.2"/>
<text x="36.00" y="260.70" font-size="8.2" text-anchor="end" fill="#202020" stroke="#202020" stroke-width="0.14">4</text>
<line x1="39.00" y1="224.60" x2="42.00" y2="224.60" stroke="#1e1e1e" stroke-width="1.2"/>
<text x="36.00" y="227.50" font-size="8.2" text-anchor="end" fill="#202020" stroke="#202020" stroke-width="0.14">6</text>
<line x1="39.00" y1="191.40" x2="42.00" y2="191.40" stroke="#1e1e1e" stroke-width="1.2"/>
<text x="36.00" y="194.30" font-size="8.2" text-anchor="end" fill="#202020" stroke="#202020" stroke-width="0.14">8</text>
<line x1="42.00" y1="324.20" x2="42.00" y2="327.20" stroke="#1e1e1e" stroke-width="1.2"/>
<text x="42.00" y="338.00" font-size="8.2" text-anchor="middle" fill="#202020" stroke="#202020" stroke-width="0.14">0</text>
<line x1="92.22" y1="324.20" x2="92.22" y2="327.20" stroke="#1e1e1e" stroke-width="1.2"/>
<text x="92.22" y="338.00" font-size="8.2" text-anchor="middle" fill="#202020" stroke="#202020" stroke-width="0.14">6</text>
<line x1="142.44" y1="324.20" x2="142.44" y2="327.20" stroke="#1e1e1e" stroke-width="1.2"/>
<text x="142.44" y="338.00" font-size="8.2" text-anchor="middle" fill="#202020" stroke="#202020" stroke-width="0.14">12</text>
<line x1="192.66" y1="324.20" x2="192.66" y2="327.20" stroke="#1e1e1e" stroke-width="1.2"/>
<text x="192.66" y="338.00" font-size="8.2" text-anchor="middle" fill="#202020" stroke="#202020" stroke-width="0.14">18</text>
<line x1="242.88" y1="324.20" x2="242.88" y2="327.20" stroke="#1e1e1e" stroke-width="1.2"/>
<text x="242.88" y="338.00" font-size="8.2" text-anchor="middle" fill="#202020" stroke="#202020" stroke-width="0.14">24</text>
<text x="139.90" y="350.20" font-size="10.6" text-anchor="middle" fill="#202020" textLength="22.7" lengthAdjust="spacingAndGlyphs" stroke="#202020" stroke-width="0.14">Hours</text>
<text x="17.80" y="258.90" font-size="8.4" text-anchor="middle" fill="#202020" textLength="96" lengthAdjust="spacingAndGlyphs" transform="rotate(-90 17.80 258.90)" stroke="#202020" stroke-width="0.14">iPlts per 10E6 HPCs (%)</text>
<line x1="188.00" y1="200.40" x2="203.50" y2="200.40" stroke="#bf8b80" stroke-width="1.3"/>
<circle cx="195.75" cy="200.40" r="2.6" fill="none" stroke="#bf8b80" stroke-width="1.1"/>
<text x="207.00" y="203.40" font-size="8.3" text-anchor="start" fill="#202020" textLength="10.6" lengthAdjust="spacingAndGlyphs" stroke="#202020" stroke-width="0.14">WT</text>
<line x1="188.00" y1="212.10" x2="203.50" y2="212.10" stroke="#a55663" stroke-width="1.3"/>
<polygon points="195.75,209.30 198.55,212.10 195.75,214.90 192.95,212.10" fill="#a55663" fill-opacity="0.75" stroke="#a55663" stroke-width="0.9"/>
<text x="207.00" y="215.10" font-size="8.3" text-anchor="start" fill="#202020" textLength="28.8" lengthAdjust="spacingAndGlyphs" stroke="#202020" stroke-width="0.14">WT-OE1</text>
<line x1="188.00" y1="223.80" x2="203.50" y2="223.80" stroke="#8c1a39" stroke-width="1.3"/>
<rect x="193.35" y="221.40" width="4.80" height="4.80" fill="none" stroke="#8c1a39" stroke-width="1.1"/>
<text x="207.00" y="226.80" font-size="8.3" text-anchor="start" fill="#202020" textLength="30.2" lengthAdjust="spacingAndGlyphs" stroke="#202020" stroke-width="0.14">WT-OE2</text>
<line x1="188.00" y1="234.60" x2="203.50" y2="234.60" stroke="#ead1cd" stroke-width="1.3"/>
<circle cx="195.75" cy="234.60" r="2.6" fill="#ead1cd" stroke="#ead1cd" stroke-width="0.8"/>
<text x="207.00" y="237.60" font-size="8.3" text-anchor="start" fill="#202020" textLength="23.4" lengthAdjust="spacingAndGlyphs" stroke="#202020" stroke-width="0.14">FLI1+/-</text>
<line x1="300.00" y1="306.44" x2="300.00" y2="320.85" stroke="#9398b8" stroke-width="1.0"/>
<line x1="297.40" y1="306.44" x2="302.60" y2="306.44" stroke="#9398b8" stroke-width="1.0"/>
<line x1="297.40" y1="320.85" x2="302.60" y2="320.85" stroke="#9398b8" stroke-width="1.0"/>
<line x1="304.23" y1="318.17" x2="304.23" y2="321.52" stroke="#9398b8" stroke-width="1.0"/>
<line x1="301.63" y1="318.17" x2="306.83" y2="318.17" stroke="#9398b8" stroke-width="1.0"/>
<line x1="301.63" y1="321.52" x2="306.83" y2="321.52" stroke="#9398b8" stroke-width="1.0"/>
<line x1="333.84" y1="322.02" x2="333.84" y2="323.03" stroke="#9398b8" stroke-width="1.0"/>
<line x1="331.24" y1="322.02" x2="336.44" y2="322.02" stroke="#9398b8" stroke-width="1.0"/>
<line x1="331.24" y1="323.03" x2="336.44" y2="323.03" stroke="#9398b8" stroke-width="1.0"/>
<line x1="350.76" y1="322.02" x2="350.76" y2="323.03" stroke="#9398b8" stroke-width="1.0"/>
<line x1="348.16" y1="322.02" x2="353.36" y2="322.02" stroke="#9398b8" stroke-width="1.0"/>
<line x1="348.16" y1="323.03" x2="353.36" y2="323.03" stroke="#9398b8" stroke-width="1.0"/>
<line x1="503.04" y1="323.19" x2="503.04" y2="323.53" stroke="#9398b8" stroke-width="1.0"/>
<line x1="500.44" y1="323.19" x2="505.64" y2="323.19" stroke="#9398b8" stroke-width="1.0"/>
<line x1="500.44" y1="323.53" x2="505.64" y2="323.53" stroke="#9398b8" stroke-width="1.0"/>
<polyline points="300.00,313.65 304.23,319.84 333.84,322.52 350.76,322.52 503.04,323.36" fill="none" stroke="#9398b8" stroke-width="1.3" stroke-linejoin="round"/>
<polygon points="300.00,310.75 302.90,315.97 297.10,315.97" fill="none" stroke="#9398b8" stroke-width="1.1"/>
<polygon points="304.23,316.94 307.13,322.16 301.33,322.16" fill="none" stroke="#9398b8" stroke-width="1.1"/>
<polygon points="333.84,319.62 336.74,324.84 330.94,324.84" fill="none" stroke="#9398b8" stroke-width="1.1"/>
<polygon points="350.76,319.62 353.66,324.84 347.86,324.84" fill="none" stroke="#9398b8" stroke-width="1.1"/>
<polygon points="503.04,320.46 505.94,325.68 500.14,325.68" fill="none" stroke="#9398b8" stroke-width="1.1"/>
<line x1="300.00" y1="252.17" x2="300.00" y2="263.90" stroke="#bf8b80" stroke-width="1.0"/>
<line x1="297.40" y1="252.17" x2="302.60" y2="252.17" stroke="#bf8b80" stroke-width="1.0"/>
<line x1="297.40" y1="263.90" x2="302.60" y2="263.90" stroke="#bf8b80" stroke-width="1.0"/>
<line x1="304.23" y1="254.69" x2="304.23" y2="271.44" stroke="#bf8b80" stroke-width="1.0"/>
<line x1="301.63" y1="254.69" x2="306.83" y2="254.69" stroke="#bf8b80" stroke-width="1.0"/>
<line x1="301.63" y1="271.44" x2="306.83" y2="271.44" stroke="#bf8b80" stroke-width="1.0"/>
<line x1="333.84" y1="285.34" x2="333.84" y2="292.04" stroke="#bf8b80" stroke-width="1.0"/>
<line x1="331.24" y1="285.34" x2="336.44" y2="285.34" stroke="#bf8b80" stroke-width="1.0"/>
<line x1="331.24" y1="292.04" x2="336.44" y2="292.04" stroke="#bf8b80" stroke-width="1.0"/>
<line x1="350.76" y1="283.00" x2="350.76" y2="293.04" stroke="#bf8b80" stroke-width="1.0"/>
<line x1="348.16" y1="283.00" x2="353.36" y2="283.00" stroke="#bf8b80" stroke-width="1.0"/>
<line x1="348.16" y1="293.04" x2="353.36" y2="293.04" stroke="#bf8b80" stroke-width="1.0"/>
<line x1="503.04" y1="314.65" x2="503.04" y2="318.00" stroke="#bf8b80" stroke-width="1.0"/>
<line x1="500.44" y1="314.65" x2="505.64" y2="314.65" stroke="#bf8b80" stroke-width="1.0"/>
<line x1="500.44" y1="318.00" x2="505.64" y2="318.00" stroke="#bf8b80" stroke-width="1.0"/>
<polyline points="300.00,258.04 304.23,263.06 333.84,288.69 350.76,288.02 503.04,316.33" fill="none" stroke="#bf8b80" stroke-width="1.3" stroke-linejoin="round"/>
<circle cx="300.00" cy="258.04" r="2.6" fill="none" stroke="#bf8b80" stroke-width="1.1"/>
<circle cx="304.23" cy="263.06" r="2.6" fill="none" stroke="#bf8b80" stroke-width="1.1"/>
<circle cx="333.84" cy="288.69" r="2.6" fill="none" stroke="#bf8b80" stroke-width="1.1"/>
<circle cx="350.76" cy="288.02" r="2.6" fill="none" stroke="#bf8b80" stroke-width="1.1"/>
<circle cx="503.04" cy="316.33" r="2.6" fill="none" stroke="#bf8b80" stroke-width="1.1"/>
<line x1="300.00" y1="252.51" x2="300.00" y2="262.56" stroke="#24365c" stroke-width="1.0"/>
<line x1="297.40" y1="252.51" x2="302.60" y2="252.51" stroke="#24365c" stroke-width="1.0"/>
<line x1="297.40" y1="262.56" x2="302.60" y2="262.56" stroke="#24365c" stroke-width="1.0"/>
<line x1="304.23" y1="240.78" x2="304.23" y2="270.94" stroke="#24365c" stroke-width="1.0"/>
<line x1="301.63" y1="240.78" x2="306.83" y2="240.78" stroke="#24365c" stroke-width="1.0"/>
<line x1="301.63" y1="270.94" x2="306.83" y2="270.94" stroke="#24365c" stroke-width="1.0"/>
<line x1="333.84" y1="294.22" x2="333.84" y2="299.24" stroke="#24365c" stroke-width="1.0"/>
<line x1="331.24" y1="294.22" x2="336.44" y2="294.22" stroke="#24365c" stroke-width="1.0"/>
<line x1="331.24" y1="299.24" x2="336.44" y2="299.24" stroke="#24365c" stroke-width="1.0"/>
<line x1="350.76" y1="299.24" x2="350.76" y2="303.26" stroke="#24365c" stroke-width="1.0"/>
<line x1="348.16" y1="299.24" x2="353.36" y2="299.24" stroke="#24365c" stroke-width="1.0"/>
<line x1="348.16" y1="303.26" x2="353.36" y2="303.26" stroke="#24365c" stroke-width="1.0"/>
<line x1="503.04" y1="317.84" x2="503.04" y2="319.51" stroke="#24365c" stroke-width="1.0"/>
<line x1="500.44" y1="317.84" x2="505.64" y2="317.84" stroke="#24365c" stroke-width="1.0"/>
<line x1="500.44" y1="319.51" x2="505.64" y2="319.51" stroke="#24365c" stroke-width="1.0"/>
<polyline points="300.00,257.53 304.23,255.86 333.84,296.73 350.76,301.25 503.04,318.67" fill="none" stroke="#24365c" stroke-width="1.3" stroke-linejoin="round"/>
<polygon points="300.00,260.43 302.90,255.21 297.10,255.21" fill="none" stroke="#24365c" stroke-width="1.1"/>
<polygon points="304.23,258.76 307.13,253.54 301.33,253.54" fill="none" stroke="#24365c" stroke-width="1.1"/>
<polygon points="333.84,299.63 336.74,294.41 330.94,294.41" fill="none" stroke="#24365c" stroke-width="1.1"/>
<polygon points="350.76,304.15 353.66,298.93 347.86,298.93" fill="none" stroke="#24365c" stroke-width="1.1"/>
<polygon points="503.04,321.57 505.94,316.35 500.14,316.35" fill="none" stroke="#24365c" stroke-width="1.1"/>
<line x1="300.00" y1="187.20" x2="300.00" y2="324.90" stroke="#1e1e1e" stroke-width="1.5"/>
<line x1="299.30" y1="324.20" x2="504.20" y2="324.20" stroke="#1e1e1e" stroke-width="1.5"/>
<line x1="297.00" y1="324.20" x2="300.00" y2="324.20" stroke="#1e1e1e" stroke-width="1.2"/>
<text x="294.60" y="327.10" font-size="8.2" text-anchor="end" fill="#202020" stroke="#202020" stroke-width="0.14">0</text>
<line x1="297.00" y1="290.70" x2="300.00" y2="290.70" stroke="#1e1e1e" stroke-width="1.2"/>
<text x="294.60" y="293.60" font-size="8.2" text-anchor="end" fill="#202020" stroke="#202020" stroke-width="0.14">2</text>
<line x1="297.00" y1="257.20" x2="300.00" y2="257.20" stroke="#1e1e1e" stroke-width="1.2"/>
<text x="294.60" y="260.10" font-size="8.2" text-anchor="end" fill="#202020" stroke="#202020" stroke-width="0.14">4</text>
<line x1="297.00" y1="223.70" x2="300.00" y2="223.70" stroke="#1e1e1e" stroke-width="1.2"/>
<text x="294.60" y="226.60" font-size="8.2" text-anchor="end" fill="#202020" stroke="#202020" stroke-width="0.14">6</text>
<line x1="297.00" y1="190.20" x2="300.00" y2="190.20" stroke="#1e1e1e" stroke-width="1.2"/>
<text x="294.60" y="193.10" font-size="8.2" text-anchor="end" fill="#202020" stroke="#202020" stroke-width="0.14">8</text>
<line x1="300.00" y1="324.20" x2="300.00" y2="327.20" stroke="#1e1e1e" stroke-width="1.2"/>
<text x="300.00" y="338.20" font-size="8.2" text-anchor="middle" fill="#202020" stroke="#202020" stroke-width="0.14">0</text>
<line x1="350.76" y1="324.20" x2="350.76" y2="327.20" stroke="#1e1e1e" stroke-width="1.2"/>
<text x="350.76" y="338.20" font-size="8.2" text-anchor="middle" fill="#202020" stroke="#202020" stroke-width="0.14">6</text>
<line x1="401.52" y1="324.20" x2="401.52" y2="327.20" stroke="#1e1e1e" stroke-width="1.2"/>
<text x="401.52" y="338.20" font-size="8.2" text-anchor="middle" fill="#202020" stroke="#202020" stroke-width="0.14">12</text>
<line x1="452.28" y1="324.20" x2="452.28" y2="327.20" stroke="#1e1e1e" stroke-width="1.2"/>
<text x="452.28" y="338.20" font-size="8.2" text-anchor="middle" fill="#202020" stroke="#202020" stroke-width="0.14">18</text>
<line x1="503.04" y1="324.20" x2="503.04" y2="327.20" stroke="#1e1e1e" stroke-width="1.2"/>
<text x="503.04" y="338.20" font-size="8.2" text-anchor="middle" fill="#202020" stroke="#202020" stroke-width="0.14">24</text>
<text x="403.30" y="350.90" font-size="10.6" text-anchor="middle" fill="#202020" textLength="22.7" lengthAdjust="spacingAndGlyphs" stroke="#202020" stroke-width="0.14">Hours</text>
<text x="276.40" y="257.00" font-size="8.4" text-anchor="middle" fill="#202020" textLength="96" lengthAdjust="spacingAndGlyphs" transform="rotate(-90 276.40 257.00)" stroke="#202020" stroke-width="0.14">iPlts per 10E6 HPCs (%)</text>
<line x1="450.80" y1="200.40" x2="466.20" y2="200.40" stroke="#bf8b80" stroke-width="1.3"/>
<circle cx="458.50" cy="200.40" r="2.6" fill="none" stroke="#bf8b80" stroke-width="1.1"/>
<text x="469.50" y="203.40" font-size="8.3" text-anchor="start" fill="#202020" textLength="11.0" lengthAdjust="spacingAndGlyphs" stroke="#202020" stroke-width="0.14">WT</text>
<line x1="450.80" y1="212.70" x2="466.20" y2="212.70" stroke="#9398b8" stroke-width="1.3"/>
<polygon points="458.50,209.80 461.40,215.02 455.60,215.02" fill="none" stroke="#9398b8" stroke-width="1.1"/>
<text x="469.50" y="215.70" font-size="8.3" text-anchor="start" fill="#202020" textLength="18.0" lengthAdjust="spacingAndGlyphs" stroke="#202020" stroke-width="0.14">PTSx</text>
<line x1="450.80" y1="224.30" x2="466.20" y2="224.30" stroke="#24365c" stroke-width="1.3"/>
<polygon points="458.50,227.20 461.40,221.98 455.60,221.98" fill="none" stroke="#24365c" stroke-width="1.1"/>
<text x="469.50" y="227.30" font-size="8.3" text-anchor="start" fill="#202020" textLength="31.8" lengthAdjust="spacingAndGlyphs" stroke="#202020" stroke-width="0.14">PTSx-OE</text>
<rect x="47.40" y="422.33" width="20.2" height="97.17" fill="#c87d70"/>
<line x1="57.50" y1="412.38" x2="57.50" y2="422.33" stroke="#1e1e1e" stroke-width="1.3"/>
<line x1="52.60" y1="412.38" x2="62.40" y2="412.38" stroke="#1e1e1e" stroke-width="1.3"/>
<rect x="77.44" y="428.25" width="20.2" height="91.25" fill="#b9494c"/>
<line x1="87.54" y1="417.83" x2="87.54" y2="428.25" stroke="#1e1e1e" stroke-width="1.3"/>
<line x1="82.64" y1="417.83" x2="92.44" y2="417.83" stroke="#1e1e1e" stroke-width="1.3"/>
<rect x="107.48" y="444.13" width="20.2" height="75.37" fill="#a3052d"/>
<line x1="117.58" y1="439.39" x2="117.58" y2="444.13" stroke="#1e1e1e" stroke-width="1.3"/>
<line x1="112.68" y1="439.39" x2="122.48" y2="439.39" stroke="#1e1e1e" stroke-width="1.3"/>
<rect x="137.52" y="486.32" width="20.2" height="33.18" fill="#e9c0b6"/>
<line x1="147.62" y1="482.53" x2="147.62" y2="486.32" stroke="#1e1e1e" stroke-width="1.3"/>
<line x1="142.72" y1="482.53" x2="152.52" y2="482.53" stroke="#1e1e1e" stroke-width="1.3"/>
<rect x="167.56" y="474.94" width="20.2" height="44.56" fill="#97a1c9"/>
<line x1="177.66" y1="451.96" x2="177.66" y2="474.94" stroke="#1e1e1e" stroke-width="1.3"/>
<line x1="172.76" y1="451.96" x2="182.56" y2="451.96" stroke="#1e1e1e" stroke-width="1.3"/>
<rect x="197.60" y="425.65" width="20.2" height="93.85" fill="#2c4a86"/>
<line x1="207.70" y1="413.09" x2="207.70" y2="425.65" stroke="#1e1e1e" stroke-width="1.3"/>
<line x1="202.80" y1="413.09" x2="212.60" y2="413.09" stroke="#1e1e1e" stroke-width="1.3"/>
<line x1="43.00" y1="397.50" x2="43.00" y2="520.20" stroke="#1e1e1e" stroke-width="1.5"/>
<line x1="42.30" y1="519.50" x2="221.00" y2="519.50" stroke="#1e1e1e" stroke-width="1.5"/>
<line x1="39.80" y1="519.50" x2="43.00" y2="519.50" stroke="#1e1e1e" stroke-width="1.2"/>
<text x="36.20" y="522.40" font-size="8.2" text-anchor="end" fill="#202020" stroke="#202020" stroke-width="0.14">0</text>
<line x1="39.80" y1="495.80" x2="43.00" y2="495.80" stroke="#1e1e1e" stroke-width="1.2"/>
<text x="36.20" y="498.70" font-size="8.2" text-anchor="end" fill="#202020" stroke="#202020" stroke-width="0.14">1</text>
<line x1="39.80" y1="472.10" x2="43.00" y2="472.10" stroke="#1e1e1e" stroke-width="1.2"/>
<text x="36.20" y="475.00" font-size="8.2" text-anchor="end" fill="#202020" stroke="#202020" stroke-width="0.14">2</text>
<line x1="39.80" y1="448.40" x2="43.00" y2="448.40" stroke="#1e1e1e" stroke-width="1.2"/>
<text x="36.20" y="451.30" font-size="8.2" text-anchor="end" fill="#202020" stroke="#202020" stroke-width="0.14">3</text>
<line x1="39.80" y1="424.70" x2="43.00" y2="424.70" stroke="#1e1e1e" stroke-width="1.2"/>
<text x="36.20" y="427.60" font-size="8.2" text-anchor="end" fill="#202020" stroke="#202020" stroke-width="0.14">4</text>
<line x1="39.80" y1="401.00" x2="43.00" y2="401.00" stroke="#1e1e1e" stroke-width="1.2"/>
<text x="36.20" y="403.90" font-size="8.2" text-anchor="end" fill="#202020" stroke="#202020" stroke-width="0.14">5</text>
<line x1="57.50" y1="519.50" x2="57.50" y2="522.50" stroke="#1e1e1e" stroke-width="1.2"/>
<text x="62.40" y="530.50" font-size="8.3" text-anchor="end" fill="#202020" transform="rotate(-45 62.40 530.50)" stroke="#202020" stroke-width="0.14">WT</text>
<line x1="87.54" y1="519.50" x2="87.54" y2="522.50" stroke="#1e1e1e" stroke-width="1.2"/>
<text x="92.44" y="530.50" font-size="8.3" text-anchor="end" fill="#202020" transform="rotate(-45 92.44 530.50)" stroke="#202020" stroke-width="0.14">WT-OE1</text>
<line x1="117.58" y1="519.50" x2="117.58" y2="522.50" stroke="#1e1e1e" stroke-width="1.2"/>
<text x="122.48" y="530.50" font-size="8.3" text-anchor="end" fill="#202020" transform="rotate(-45 122.48 530.50)" stroke="#202020" stroke-width="0.14">WT-OE2</text>
<line x1="147.62" y1="519.50" x2="147.62" y2="522.50" stroke="#1e1e1e" stroke-width="1.2"/>
<text x="152.52" y="530.50" font-size="8.3" text-anchor="end" fill="#202020" transform="rotate(-45 152.52 530.50)" stroke="#202020" stroke-width="0.14">FLI1+/-</text>
<line x1="177.66" y1="519.50" x2="177.66" y2="522.50" stroke="#1e1e1e" stroke-width="1.2"/>
<text x="182.56" y="530.50" font-size="8.3" text-anchor="end" fill="#202020" transform="rotate(-45 182.56 530.50)" stroke="#202020" stroke-width="0.14">PTSx</text>
<line x1="207.70" y1="519.50" x2="207.70" y2="522.50" stroke="#1e1e1e" stroke-width="1.2"/>
<text x="212.60" y="530.50" font-size="8.3" text-anchor="end" fill="#202020" transform="rotate(-45 212.60 530.50)" stroke="#202020" stroke-width="0.14">PTSx-OE</text>
<text x="106.50" y="375.10" font-size="9.7" text-anchor="start" fill="#111" font-weight="bold">AUC iMegs</text>
<rect x="305.00" y="460.40" width="20.2" height="59.10" fill="#c87d70"/>
<line x1="315.10" y1="454.85" x2="315.10" y2="460.40" stroke="#1e1e1e" stroke-width="1.3"/>
<line x1="310.20" y1="454.85" x2="320.00" y2="454.85" stroke="#1e1e1e" stroke-width="1.3"/>
<rect x="335.04" y="418.25" width="20.2" height="101.25" fill="#b9494c"/>
<line x1="345.14" y1="407.00" x2="345.14" y2="418.25" stroke="#1e1e1e" stroke-width="1.3"/>
<line x1="340.24" y1="407.00" x2="350.04" y2="407.00" stroke="#1e1e1e" stroke-width="1.3"/>
<rect x="365.08" y="415.10" width="20.2" height="104.40" fill="#a3052d"/>
<line x1="375.18" y1="408.20" x2="375.18" y2="415.10" stroke="#1e1e1e" stroke-width="1.3"/>
<line x1="370.28" y1="408.20" x2="380.08" y2="408.20" stroke="#1e1e1e" stroke-width="1.3"/>
<rect x="395.12" y="506.30" width="20.2" height="13.20" fill="#e9c0b6"/>
<line x1="405.22" y1="504.95" x2="405.22" y2="506.30" stroke="#1e1e1e" stroke-width="1.3"/>
<line x1="400.32" y1="504.95" x2="410.12" y2="504.95" stroke="#1e1e1e" stroke-width="1.3"/>
<rect x="425.16" y="513.95" width="20.2" height="5.55" fill="#97a1c9"/>
<line x1="435.26" y1="511.55" x2="435.26" y2="513.95" stroke="#1e1e1e" stroke-width="1.3"/>
<line x1="430.36" y1="511.55" x2="440.16" y2="511.55" stroke="#1e1e1e" stroke-width="1.3"/>
<rect x="455.20" y="474.35" width="20.2" height="45.15" fill="#2c4a86"/>
<line x1="465.30" y1="468.65" x2="465.30" y2="474.35" stroke="#1e1e1e" stroke-width="1.3"/>
<line x1="460.40" y1="468.65" x2="470.20" y2="468.65" stroke="#1e1e1e" stroke-width="1.3"/>
<line x1="300.40" y1="396.30" x2="300.40" y2="520.20" stroke="#1e1e1e" stroke-width="1.5"/>
<line x1="299.70" y1="519.50" x2="478.00" y2="519.50" stroke="#1e1e1e" stroke-width="1.5"/>
<line x1="297.20" y1="519.50" x2="300.40" y2="519.50" stroke="#1e1e1e" stroke-width="1.2"/>
<text x="293.60" y="522.40" font-size="8.2" text-anchor="end" fill="#202020" stroke="#202020" stroke-width="0.14">0</text>
<line x1="297.20" y1="489.50" x2="300.40" y2="489.50" stroke="#1e1e1e" stroke-width="1.2"/>
<text x="293.60" y="492.40" font-size="8.2" text-anchor="end" fill="#202020" stroke="#202020" stroke-width="0.14">20</text>
<line x1="297.20" y1="459.50" x2="300.40" y2="459.50" stroke="#1e1e1e" stroke-width="1.2"/>
<text x="293.60" y="462.40" font-size="8.2" text-anchor="end" fill="#202020" stroke="#202020" stroke-width="0.14">40</text>
<line x1="297.20" y1="429.50" x2="300.40" y2="429.50" stroke="#1e1e1e" stroke-width="1.2"/>
<text x="293.60" y="432.40" font-size="8.2" text-anchor="end" fill="#202020" stroke="#202020" stroke-width="0.14">60</text>
<line x1="297.20" y1="399.50" x2="300.40" y2="399.50" stroke="#1e1e1e" stroke-width="1.2"/>
<text x="293.60" y="402.40" font-size="8.2" text-anchor="end" fill="#202020" stroke="#202020" stroke-width="0.14">80</text>
<line x1="315.10" y1="519.50" x2="315.10" y2="522.50" stroke="#1e1e1e" stroke-width="1.2"/>
<text x="320.00" y="530.50" font-size="8.3" text-anchor="end" fill="#202020" transform="rotate(-45 320.00 530.50)" stroke="#202020" stroke-width="0.14">WT</text>
<line x1="345.14" y1="519.50" x2="345.14" y2="522.50" stroke="#1e1e1e" stroke-width="1.2"/>
<text x="350.04" y="530.50" font-size="8.3" text-anchor="end" fill="#202020" transform="rotate(-45 350.04 530.50)" stroke="#202020" stroke-width="0.14">WT-OE1</text>
<line x1="375.18" y1="519.50" x2="375.18" y2="522.50" stroke="#1e1e1e" stroke-width="1.2"/>
<text x="380.08" y="530.50" font-size="8.3" text-anchor="end" fill="#202020" transform="rotate(-45 380.08 530.50)" stroke="#202020" stroke-width="0.14">WT-OE2</text>
<line x1="405.22" y1="519.50" x2="405.22" y2="522.50" stroke="#1e1e1e" stroke-width="1.2"/>
<text x="410.12" y="530.50" font-size="8.3" text-anchor="end" fill="#202020" transform="rotate(-45 410.12 530.50)" stroke="#202020" stroke-width="0.14">FLI1+/-</text>
<line x1="435.26" y1="519.50" x2="435.26" y2="522.50" stroke="#1e1e1e" stroke-width="1.2"/>
<text x="440.16" y="530.50" font-size="8.3" text-anchor="end" fill="#202020" transform="rotate(-45 440.16 530.50)" stroke="#202020" stroke-width="0.14">PTSx</text>
<line x1="465.30" y1="519.50" x2="465.30" y2="522.50" stroke="#1e1e1e" stroke-width="1.2"/>
<text x="470.20" y="530.50" font-size="8.3" text-anchor="end" fill="#202020" transform="rotate(-45 470.20 530.50)" stroke="#202020" stroke-width="0.14">PTSx-OE</text>
<text x="365.00" y="375.10" font-size="9.7" text-anchor="start" fill="#111" font-weight="bold">AUC HPCs</text>
<text x="57.50" y="517.40" font-size="8.2" text-anchor="middle" fill="#5b3530" stroke="#5b3530" stroke-width="0.14">5</text>
<text x="87.54" y="517.40" font-size="8.2" text-anchor="middle" fill="#f2c9c9" stroke="#f2c9c9" stroke-width="0.14">5</text>
<text x="117.58" y="517.40" font-size="8.2" text-anchor="middle" fill="#f4c4cc" stroke="#f4c4cc" stroke-width="0.14">5</text>
<text x="147.62" y="517.40" font-size="8.2" text-anchor="middle" fill="#6a3a3a" stroke="#6a3a3a" stroke-width="0.14">7</text>
<text x="177.66" y="517.40" font-size="8.2" text-anchor="middle" fill="#3c3c5c" stroke="#3c3c5c" stroke-width="0.14">4</text>
<text x="207.70" y="517.40" font-size="8.2" text-anchor="middle" fill="#c8d0ee" stroke="#c8d0ee" stroke-width="0.14">5</text>
<text x="315.10" y="517.40" font-size="8.2" text-anchor="middle" fill="#5b3530" stroke="#5b3530" stroke-width="0.14">5</text>
<text x="345.14" y="517.40" font-size="8.2" text-anchor="middle" fill="#f2c9c9" stroke="#f2c9c9" stroke-width="0.14">5</text>
<text x="375.18" y="517.40" font-size="8.2" text-anchor="middle" fill="#f4c4cc" stroke="#f4c4cc" stroke-width="0.14">5</text>
<text x="405.22" y="517.40" font-size="8.2" text-anchor="middle" fill="#6a3a3a" stroke="#6a3a3a" stroke-width="0.14">7</text>
<text x="435.26" y="509.00" font-size="8.2" text-anchor="middle" fill="#333" stroke="#333" stroke-width="0.14">4</text>
<text x="465.30" y="517.40" font-size="8.2" text-anchor="middle" fill="#c8d0ee" stroke="#c8d0ee" stroke-width="0.14">5</text>
<text x="26.20" y="458.70" font-size="9.6" text-anchor="middle" fill="#202020" textLength="16.4" lengthAdjust="spacingAndGlyphs" transform="rotate(-90 26.20 458.70)" stroke="#202020" stroke-width="0.14">AUC</text>
<text x="276.60" y="458.50" font-size="9.6" text-anchor="middle" fill="#202020" textLength="16.0" lengthAdjust="spacingAndGlyphs" transform="rotate(-90 276.60 458.50)" stroke="#202020" stroke-width="0.14">AUC</text>
<line x1="57.50" y1="399.80" x2="149.00" y2="399.80" stroke="#1e1e1e" stroke-width="1.2"/>
<text x="99.50" y="397.60" font-size="7.3" text-anchor="middle" fill="#202020" textLength="27.2" lengthAdjust="spacingAndGlyphs" stroke="#202020" stroke-width="0.14">P ≤ 0.01</text>
<line x1="57.50" y1="409.20" x2="179.80" y2="409.20" stroke="#1e1e1e" stroke-width="1.2"/>
<text x="115.30" y="407.20" font-size="7.3" text-anchor="middle" fill="#202020" textLength="27.8" lengthAdjust="spacingAndGlyphs" stroke="#202020" stroke-width="0.14">P ≤ 0.05</text>
<line x1="179.00" y1="399.80" x2="208.80" y2="399.80" stroke="#1e1e1e" stroke-width="1.2"/>
<text x="193.80" y="398.20" font-size="7.3" text-anchor="middle" fill="#202020" textLength="24.5" lengthAdjust="spacingAndGlyphs" stroke="#202020" stroke-width="0.14">P = 0.7</text>
<polyline points="317,390.8 419.8,390.8 419.8,397.8" fill="none" stroke="#1e1e1e" stroke-width="1.2"/>
<line x1="405.00" y1="397.80" x2="435.80" y2="397.80" stroke="#1e1e1e" stroke-width="1.2"/>
<text x="368.20" y="388.20" font-size="7.3" text-anchor="middle" fill="#202020" textLength="32.2" lengthAdjust="spacingAndGlyphs" stroke="#202020" stroke-width="0.14">P ≤ 0.001</text>
<polyline points="317,399.6 361.4,399.6 361.4,405.3" fill="none" stroke="#1e1e1e" stroke-width="1.2"/>
<line x1="345.50" y1="405.30" x2="375.40" y2="405.30" stroke="#1e1e1e" stroke-width="1.2"/>
<text x="339.30" y="397.50" font-size="7.3" text-anchor="middle" fill="#202020" textLength="27.5" lengthAdjust="spacingAndGlyphs" stroke="#202020" stroke-width="0.14">P ≤ 0.01</text>
<line x1="407.30" y1="466.00" x2="437.60" y2="466.00" stroke="#1e1e1e" stroke-width="1.2"/>
<polyline points="422.5,466 422.5,459.9 465.3,459.9 465.3,465.1" fill="none" stroke="#1e1e1e" stroke-width="1.2"/>
<text x="442.80" y="457.80" font-size="7.3" text-anchor="middle" fill="#202020" textLength="27.7" lengthAdjust="spacingAndGlyphs" stroke="#202020" stroke-width="0.14">P ≤ 0.05</text>
<rect x="0" y="0" width="520" height="1.45" fill="#000"/>
<rect x="0" y="0" width="1.5" height="562" fill="#000"/>
<rect x="518.5" y="0" width="1.5" height="562" fill="#000"/>
<rect x="0" y="560.4" width="520" height="1.6" fill="#000"/>
</svg>
</body></html>
